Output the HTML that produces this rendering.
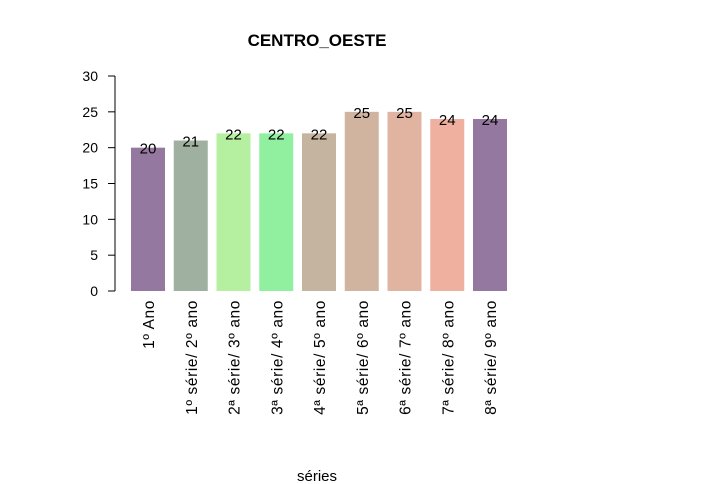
<!DOCTYPE html>
<html><head><meta charset="utf-8"><style>body{margin:0;background:#fff}svg{display:block;font-family:"Liberation Sans",Arial,sans-serif}</style></head>
<body>
<svg id="chart" width="714" height="484">
<text x="317" y="46" text-anchor="middle" font-weight="bold" font-size="17">CENTRO_OESTE</text>
<text x="317" y="481" text-anchor="middle" font-size="15">séries</text>
<g id="axis"></g>
<g id="bars"></g>
</svg>
<script>
const categories=["1º Ano","1º série/ 2º ano","2ª série/ 3º ano","3ª série/ 4º ano","4ª série/ 5º ano","5ª série/ 6º ano","6ª série/ 7º ano","7ª série/ 8º ano","8ª série/ 9º ano"];
const values=[20,21,22,22,22,25,25,24,24];
const colors=["#9478A0","#A0B0A0","#B4F0A0","#90F0A0","#C4B4A0","#D0B4A0","#E0B4A0","#F0B0A0","#9478A0"];
const yTicks=[0,5,10,15,20,25,30];
const NS="http://www.w3.org/2000/svg";
const y=v=>291-v*(215/30);
const x=i=>131+i*42.75;
const bw=34;
const ax=document.getElementById('axis'),bg=document.getElementById('bars');
function mk(t,a,p){const e=document.createElementNS(NS,t);for(const k in a)e.setAttribute(k,a[k]);p.appendChild(e);return e;}
const axl=mk('line',{x1:115,x2:115,y1:y(0),y2:y(30),stroke:'#000'},ax);


yTicks.forEach(t=>{
 const l=mk('line',{x1:108,x2:115,y1:y(t),y2:y(t),stroke:'#000'},ax);
 
 
 const tx=mk('text',{x:98,y:y(t)+5,'text-anchor':'end','font-size':14},ax);tx.textContent=t;
 
 
});
values.forEach((v,i)=>{
 const r=mk('rect',{x:x(i),y:y(v),width:bw,height:y(0)-y(v),fill:colors[i]},bg);
 
 
 const t=mk('text',{x:x(i)+bw/2,y:y(v)+6,'text-anchor':'middle','font-size':15},bg);t.textContent=v;
 
 
 const cx=x(i)+bw/2+6;
 const c=mk('text',{x:0,y:0,'text-anchor':'end','font-size':15.5,'letter-spacing':'0.6',transform:`translate(${cx},300) rotate(-90)`},bg);c.textContent=categories[i];
 
 
});
</script>
</body></html>
